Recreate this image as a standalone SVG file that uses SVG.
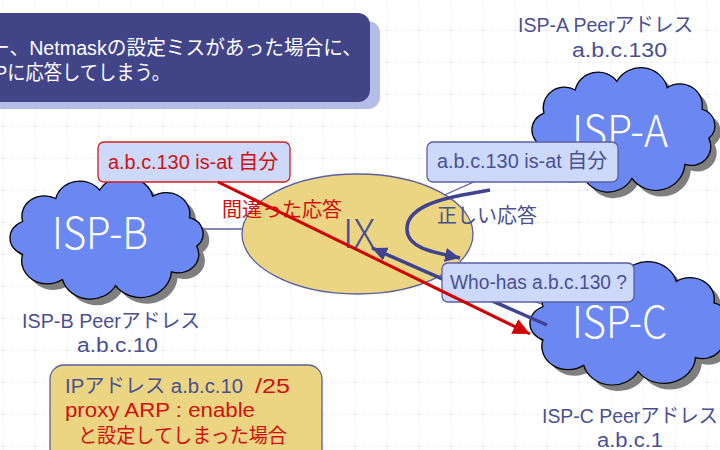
<svg xmlns="http://www.w3.org/2000/svg" width="720" height="450" viewBox="0 0 720 450">
<defs>
<pattern id="grid" x="3" y="30" width="32" height="32" patternUnits="userSpaceOnUse">
<path d="M0 0H32M0 0V32" fill="none" stroke="#dbe4f8" stroke-width="1" stroke-dasharray="4 3"/>
</pattern>
<path id="cloud" d="M17.3 47.2 A22 22 0 0 1 49.5 22.4 A24 24 0 0 1 92.3 13.2 A28 28 0 0 1 144 20 A23 23 0 0 1 179.7 43 A18 18 0 0 1 186.7 74 A20 20 0 0 1 162.2 101.8 A30 30 0 0 1 107.7 116.8 A28 28 0 0 1 56 110 A25 25 0 0 1 17.3 82.8 A19 19 0 0 1 17.3 47.2 Z"/>
<marker id="redHead" markerUnits="userSpaceOnUse" markerWidth="20" markerHeight="18" refX="17" refY="8" orient="auto">
<path d="M0 0L17 8L0 16Z" fill="#d00000"/>
</marker>
<marker id="blueHead" markerUnits="userSpaceOnUse" markerWidth="18" markerHeight="16" refX="15" refY="7" orient="auto">
<path d="M0 0L15 7L0 14Z" fill="#3f4390"/>
</marker>
</defs>
<style>
text{font-family:"Liberation Sans","Noto Sans CJK JP",sans-serif;font-size:20px;}
.slate{fill:#4a5090;}
.red{fill:#d01010;}
.cloudShape{fill:#6a87f2;stroke:#000;stroke-width:1.3;}
.cloudShadow{fill:#7f7f7f;}
.big{fill:#fff;font-size:44px;font-family:"Noto Sans CJK JP","Liberation Sans",sans-serif;font-weight:300;}
.box{fill:#cdd9fa;stroke:#5b5fa0;stroke-width:1.3;}
.thin{stroke:#5b5fa0;stroke-width:1.3;fill:none;}
</style>
<rect width="720" height="450" fill="#ffffff"/>
<rect width="720" height="450" fill="url(#grid)"/>

<g id="title">
<rect x="-20" y="21" width="400" height="88" rx="12" fill="#b4bce8"/>
<rect x="-20" y="13" width="390" height="89" rx="12" fill="#414487"/>
<text x="-10" y="55" font-size="21" fill="#ffffff" textLength="372" lengthAdjust="spacingAndGlyphs">ー、Netmaskの設定ミスがあった場合に、</text>
<text x="-5" y="80" font-size="20" fill="#ffffff" textLength="175" lengthAdjust="spacingAndGlyphs">Pに応答してしまう。</text>
</g>

<g id="connectors">
<line class="thin" x1="200" y1="229" x2="244" y2="229"/>
<line class="thin" x1="440" y1="197" x2="545" y2="150"/>
<line class="thin" x1="455" y1="276" x2="560" y2="310"/>
</g>

<g id="IX">
<ellipse cx="357.5" cy="234" rx="115.5" ry="60" fill="#ecd582" stroke="#5b5fa0" stroke-width="1.3"/>
<text x="359" y="248" class="slate" text-anchor="middle" style="font-family:'Noto Sans CJK JP','Liberation Sans',sans-serif;font-size:40px;font-weight:300">IX</text>
</g>

<g id="ISP-B">
<use href="#cloud" class="cloudShadow" transform="translate(11,184) scale(1.027,0.923)"/>
<use href="#cloud" class="cloudShape" transform="translate(4.9,177.9) scale(1.027,0.923)"/>
<text x="52" y="249" class="big" textLength="96" lengthAdjust="spacingAndGlyphs">ISP-B</text>
</g>
<g id="ISP-B-label">
<text x="22" y="328" class="slate" textLength="178" lengthAdjust="spacingAndGlyphs">ISP-B Peerアドレス</text>
<text x="77" y="352" class="slate" textLength="81" lengthAdjust="spacingAndGlyphs">a.b.c.10</text>
</g>

<g id="ISP-A">
<use href="#cloud" class="cloudShadow" transform="translate(533,75) scale(0.973,0.938)"/>
<use href="#cloud" class="cloudShape" transform="translate(527.1,68.9) scale(0.973,0.938)"/>
<text x="572" y="147" class="big" textLength="96" lengthAdjust="spacingAndGlyphs">ISP-A</text>
</g>
<g id="ISP-A-label">
<text x="518" y="32" class="slate" textLength="175" lengthAdjust="spacingAndGlyphs">ISP-A Peerアドレス</text>
<text x="572" y="57" class="slate" textLength="95" lengthAdjust="spacingAndGlyphs">a.b.c.130</text>
</g>

<g id="ISP-C">
<use href="#cloud" class="cloudShadow" transform="translate(531,269) scale(1.053,0.93)"/>
<use href="#cloud" class="cloudShape" transform="translate(524.7,262.9) scale(1.053,0.93)"/>
<text x="572" y="338" class="big" textLength="95" lengthAdjust="spacingAndGlyphs">ISP-C</text>
</g>
<g id="ISP-C-label">
<text x="542" y="423" class="slate" textLength="176" lengthAdjust="spacingAndGlyphs">ISP-C Peerアドレス</text>
<text x="597" y="447" class="slate" textLength="66" lengthAdjust="spacingAndGlyphs">a.b.c.1</text>
</g>

<g id="arrows">
<line x1="547" y1="325" x2="372" y2="248" stroke="#3f4390" stroke-width="3.5" marker-end="url(#blueHead)"/>
<path d="M490 190 L468 194 C432 200 406 210 407 230 C408 248 432 252 460 258" fill="none" stroke="#3f4390" stroke-width="3.5" marker-end="url(#blueHead)"/>
</g>

<g id="box-isp-a">
<rect x="427" y="142" width="191" height="40" rx="6" class="box"/>
<text x="437" y="168" class="slate" textLength="170" lengthAdjust="spacingAndGlyphs">a.b.c.130 is-at 自分</text>
</g>

<g id="box-whohas">
<rect x="442" y="263" width="192" height="39" rx="6" class="box"/>
<text x="450" y="289" class="slate" textLength="177" lengthAdjust="spacingAndGlyphs">Who-has a.b.c.130 ?</text>
</g>

<g id="box-isp-b">
<rect x="98" y="142" width="192" height="40" rx="6" fill="#cdd9fa" stroke="#d02020" stroke-width="1.3"/>
<text x="108" y="169" class="red" textLength="170" lengthAdjust="spacingAndGlyphs">a.b.c.130 is-at 自分</text>
</g>

<g id="labels">
<text x="222" y="217" class="red">間違った応答</text>
<text x="437" y="223" class="slate">正しい応答</text>
</g>

<g id="red-arrow">
<line x1="218" y1="182" x2="530" y2="334" stroke="#d00000" stroke-width="3" marker-end="url(#redHead)"/>
</g>

<g id="note">
<rect x="50" y="365" width="272" height="100" rx="14" fill="#ecd582" stroke="#5b5fa0" stroke-width="1.3"/>
<text x="65" y="393" class="slate" textLength="178" lengthAdjust="spacingAndGlyphs">IPアドレス a.b.c.10</text>
<text x="255" y="393" class="red" textLength="35" lengthAdjust="spacingAndGlyphs">/25</text>
<text x="65" y="417" class="red" textLength="190" lengthAdjust="spacingAndGlyphs">proxy ARP : enable</text>
<text x="78" y="443" class="red" textLength="209" lengthAdjust="spacingAndGlyphs">と設定してしまった場合</text>
</g>
</svg>
